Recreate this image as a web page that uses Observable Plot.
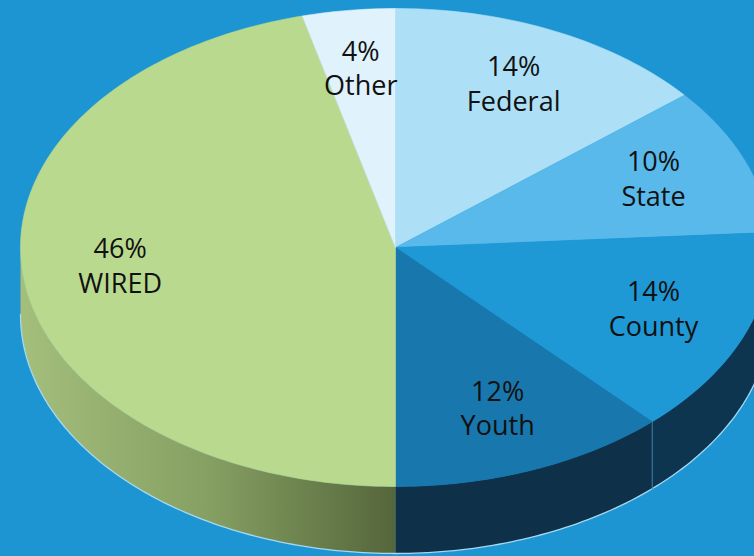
<!DOCTYPE html>
<html>
<head>
<meta charset="utf-8">
<script src="https://cdn.jsdelivr.net/npm/d3@7"></script>
<script src="https://cdn.jsdelivr.net/npm/@observablehq/plot@0.6"></script>
<style>
  html, body { margin: 0; padding: 0; background: #1d95d3; overflow: hidden; }
  #chart { width: 754px; height: 556px; overflow: hidden; }
</style>
</head>
<body>
<div id="chart"></div>
<script>
// Data (clockwise from 12 o'clock)
const categories = ["Federal", "State", "County", "Youth", "WIRED", "Other"];
const shares = [14, 10, 14, 12, 46, 4];

// Palette
const topColors = ["#ade0f7", "#58b9ea", "#1f98d6", "#1877ad", "#b9da8e", "#e0f2fc"];
const sideColors = ["#6fa9c6", "#3580a8", "#0e3550", "#0f3049", "url(#wiredSide)", "#9bb3c0"];

const rows = categories.map((name, i) => ({name, share: shares[i], top: topColors[i], side: sideColors[i]}));
const arcs = d3.pie().sort(null).value(d => d.share)(rows);

const DEPTH = 67 / 239; // thickness in y data units

function arcPts(a0, a1, dy) {
  const n = Math.max(2, Math.ceil((a1 - a0) / (2 * Math.PI) * 360));
  const pts = [];
  for (let i = 0; i <= n; i++) {
    const a = a0 + (a1 - a0) * i / n;
    pts.push({x: Math.sin(a), y: Math.cos(a) + dy});
  }
  return pts;
}

const marks = [];

// gradient defs
marks.push(() => {
  const defs = d3.create("svg:defs");
  const g = defs.append("linearGradient").attr("id", "wiredSide")
    .attr("x1", "0").attr("x2", "1").attr("y1", "0").attr("y2", "0");
  g.append("stop").attr("offset", "0%").attr("stop-color", "#a4be7c");
  g.append("stop").attr("offset", "50%").attr("stop-color", "#86a063");
  g.append("stop").attr("offset", "100%").attr("stop-color", "#55663b");
  return defs.node();
});

// side walls (front half visible: angles between PI/2 and 3PI/2)
for (const a of arcs) {
  const lo = Math.max(a.startAngle, Math.PI / 2);
  const hi = Math.min(a.endAngle, 3 * Math.PI / 2);
  if (lo < hi) {
    const poly = [...arcPts(lo, hi, 0), ...arcPts(lo, hi, -DEPTH).reverse()];
    marks.push(Plot.line(poly, {x: "x", y: "y", fill: a.data.side, stroke: "none"}));
  }
}
// outer bottom rim highlight
marks.push(Plot.line(arcPts(Math.PI / 2, 3 * Math.PI / 2, -DEPTH), {x: "x", y: "y", stroke: "#a6d8f0", strokeWidth: 1.3}));
// divider at visible slice boundaries on the wall
const dividers = arcs.filter(a => a.endAngle > Math.PI / 2 && a.endAngle < Math.PI * 0.99)
  .map(a => [{x: Math.sin(a.endAngle), y: Math.cos(a.endAngle)}, {x: Math.sin(a.endAngle), y: Math.cos(a.endAngle) - DEPTH}]);
for (const d of dividers) marks.push(Plot.line(d, {x: "x", y: "y", stroke: "#3f7fa3", strokeWidth: 1}));

// top faces
for (const a of arcs) {
  const poly = [{x: 0, y: 0}, ...arcPts(a.startAngle, a.endAngle, 0)];
  marks.push(Plot.line(poly, {x: "x", y: "y", fill: a.data.top, stroke: a.data.top, strokeWidth: 0.6}));
}

// labels
const R = 0.74;
const labels = arcs.map(a => {
  const m = (a.startAngle + a.endAngle) / 2;
  return {x: R * Math.sin(m), y: R * Math.cos(m), text: `${a.data.share}%\n${a.data.name}`};
});
marks.push(Plot.text(labels, {x: "x", y: "y", text: "text", dy: -5, fontSize: 27, lineHeight: 1.28, fill: "#111", fontFamily: "Open Sans, sans-serif"}));

const chart = Plot.plot({
  width: 754,
  height: 556,
  margin: 0,
  x: {domain: [-1, 1], range: [20, 770], axis: null},
  y: {domain: [-1, 1], range: [486, 8], axis: null},
  style: {background: "#1d95d3", overflow: "hidden"},
  marks
});
document.getElementById("chart").append(chart);
</script>
</body>
</html>
